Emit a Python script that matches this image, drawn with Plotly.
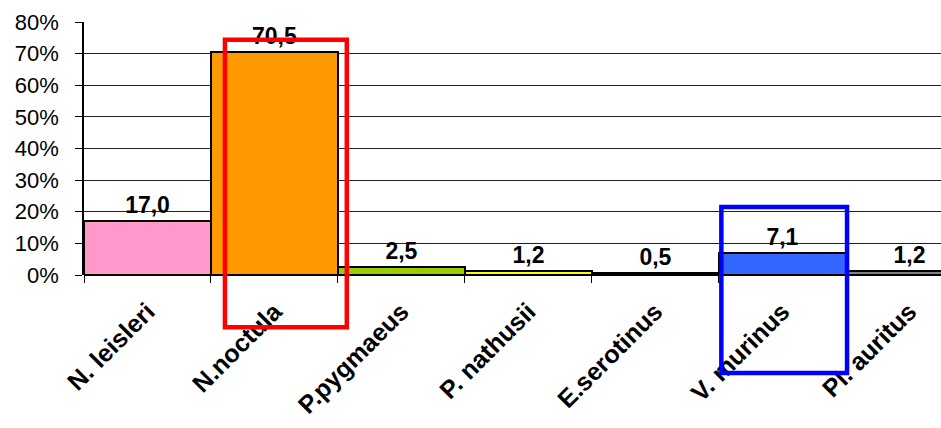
import plotly.graph_objects as go

# Share of each bat species in the sample (%)
species = ["N. leisleri", "N.noctula", "P.pygmaeus", "P. nathusii",
           "E.serotinus", "V. murinus", "Pl. auritus"]
share = [17.0, 70.5, 2.5, 1.2, 0.5, 7.1, 1.2]
bar_colors = ["#FF99CC", "#FF9900", "#99CC00", "#FFFF00",
              "#FFFFFF", "#3366FF", "#808080"]
y_ticks = [0, 10, 20, 30, 40, 50, 60, 70, 80]
y_tick_labels = [f"{t}%" for t in y_ticks]

FONT = "Arial, Liberation Sans, sans-serif"
X_RANGE = [-0.5, 6.25]
Y_RANGE = [0, 80]

labels = [f"{v:.1f}".replace(".", ",") for v in share]


def px(xc):
    """Category-axis position -> paper fraction."""
    return (xc - X_RANGE[0]) / (X_RANGE[1] - X_RANGE[0])


def py(yv):
    """Value-axis position -> paper fraction."""
    return (yv - Y_RANGE[0]) / (Y_RANGE[1] - Y_RANGE[0])


fig = go.Figure(go.Bar(
    x=species,
    y=share,
    marker=dict(color=bar_colors, line=dict(color="black", width=2)),
    text=labels,
    textposition="outside",
    textfont=dict(family=FONT, size=23, color="black", weight="bold"),
    cliponaxis=False,
))

# highlight frames around two species (paper refs so they may extend below the axis)
fig.add_shape(type="rect", xref="paper", yref="paper",
              x0=px(0.61), x1=px(1.57), y0=py(-16.5), y1=py(74.4),
              line=dict(color="#FF0000", width=4.5), fillcolor="rgba(0,0,0,0)")
fig.add_shape(type="rect", xref="paper", yref="paper",
              x0=px(4.52), x1=px(5.51), y0=py(-31.0), y1=py(21.5),
              line=dict(color="#0000FF", width=4.5), fillcolor="rgba(0,0,0,0)")

fig.update_layout(
    width=941, height=428,
    margin=dict(l=84, r=0, t=22, b=153),
    paper_bgcolor="white", plot_bgcolor="white",
    bargap=0,
    showlegend=False,
    font=dict(family=FONT, color="black"),
)
fig.update_xaxes(
    type="category",
    range=X_RANGE,
    tickangle=-45,
    tickfont=dict(family=FONT, size=25, color="black", weight="bold"),
    ticks="outside", tickson="boundaries", ticklen=7, tickcolor="black",
    ticklabelstandoff=16,
    showline=False,
    automargin=False,
)
fig.update_yaxes(
    range=Y_RANGE,
    tickvals=y_ticks, ticktext=y_tick_labels,
    tickfont=dict(family=FONT, size=22, color="black"),
    ticks="outside", ticklen=7, tickcolor="black",
    ticklabelstandoff=12,
    showgrid=True, gridcolor="#222222", gridwidth=1,
    showline=True, linecolor="black", linewidth=1.5,
    zeroline=True, zerolinecolor="black", zerolinewidth=2,
    automargin=False,
)

fig.write_html("out.html")
